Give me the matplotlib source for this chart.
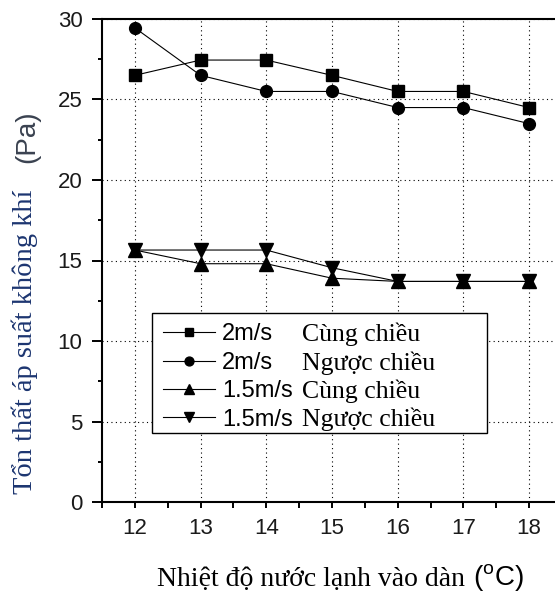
import matplotlib
matplotlib.use("Agg")
import matplotlib.pyplot as plt
from matplotlib.patches import Rectangle
from matplotlib.ticker import MultipleLocator

# data
temps = [12, 13, 14, 15, 16, 17, 18]
v2_cung = [26.5, 27.45, 27.45, 26.5, 25.5, 25.5, 24.5]
v2_nguoc = [29.45, 26.5, 25.5, 25.5, 24.5, 24.5, 23.5]
v15_cung = [15.65, 14.8, 14.8, 13.9, 13.7, 13.7, 13.7]
v15_nguoc = [15.65, 15.65, 15.65, 14.55, 13.7, 13.7, 13.7]

speeds = ["2m/s", "2m/s", "1.5m/s", "1.5m/s"]
directions = ["Cùng chiều", "Ngược chiều", "Cùng chiều", "Ngược chiều"]
markers = ["s", "o", "^", "v"]
msizes = [8, 8.5, 9.5, 9.5]

x_ticks = [12, 13, 14, 15, 16, 17, 18]
y_ticks = [0, 5, 10, 15, 20, 25, 30]

plt.rcParams["mathtext.fontset"] = "custom"
plt.rcParams["mathtext.rm"] = "Liberation Sans"
SANS = "Liberation Sans"
SERIF = "Liberation Serif"
W, H = 555, 597


def fx(px):
    return px / W


def fy(py):
    return 1 - py / H


fig = plt.figure(figsize=(W / 100, H / 100), dpi=100)
ax = fig.add_axes([fx(102), fy(502), 460 / W, 483 / H])

series = [v2_cung, v2_nguoc, v15_cung, v15_nguoc]
handles = []
for vals, mk, ms in zip(series, markers, msizes):
    (ln,) = ax.plot(temps, vals, color="black", lw=0.8, marker=mk, ms=ms,
                    mfc="black", mec="black", zorder=3)
    handles.append(ln)

ax.set_xlim(11.5, 18.5)
ax.set_ylim(0, 30)
ax.set_xticks(x_ticks)
ax.set_yticks(y_ticks)
ax.xaxis.set_minor_locator(MultipleLocator(0.5))
ax.yaxis.set_minor_locator(MultipleLocator(2.5))
ax.tick_params(axis="x", which="major", direction="out", length=4.5, width=1.4, pad=7)
ax.tick_params(axis="x", which="minor", direction="out", length=4.0, width=1.4)
ax.tick_params(axis="y", which="major", direction="out", length=7, width=1.4, pad=7)
ax.tick_params(axis="y", which="minor", direction="out", length=3, width=1.4)
for lab in ax.get_xticklabels() + ax.get_yticklabels():
    lab.set_fontfamily(SANS)
    lab.set_fontsize(16)
    lab.set_color("#1a1a1a")

for side in ("left", "bottom", "top"):
    ax.spines[side].set_linewidth(1.5)
ax.spines["right"].set_visible(False)
ax.grid(True, which="major", color="black", lw=0.8, ls=(0, (1, 3)))
ax.set_axisbelow(True)

# legend: frame drawn by hand, second text column in serif
frame = Rectangle((fx(152), fy(433)), (487 - 152) / W, (433 - 313) / H,
                  transform=fig.transFigure, facecolor="white", edgecolor="black",
                  lw=1.0, zorder=4, clip_on=False)
ax.add_artist(frame)
leg = ax.legend(handles, speeds, loc="center left",
                bbox_to_anchor=(fx(163), fy(377)), bbox_transform=fig.transFigure,
                frameon=False, borderpad=0, borderaxespad=0, handlelength=2.2,
                handletextpad=0.3, labelspacing=0.27, markerscale=0.75,
                prop={"family": SANS, "size": 17})
leg.set_zorder(5)

fig.canvas.draw()
for txt, d in zip(leg.get_texts(), directions):
    bb = txt.get_window_extent()
    fig.text(fx(302), (bb.y0 + bb.y1) / 2 / H, d, family=SERIF, size=18.5,
             ha="left", va="center", color="black", zorder=6)

# axis titles
fig.text(fx(157), fy(580), "Nhiệt độ nước lạnh vào dàn", family=SERIF, size=20,
         ha="left", va="center", color="black")
fig.text(fx(473), fy(578), r"($^{\mathrm{o}}$C)", family=SANS, size=20,
         ha="left", va="center", color="black")
fig.text(fx(25), fy(342), "Tổn thất áp suất không khí", family=SERIF, size=20.5,
         rotation=90, ha="center", va="center", color="#1c3570")
fig.text(fx(27), fy(137), "(Pa)", family=SANS, size=20,
         rotation=90, ha="center", va="center", color="#3a4250")

fig.savefig("out.png", dpi=100)
